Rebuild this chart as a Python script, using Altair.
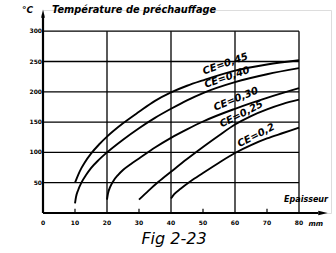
import altair as alt
import pandas as pd

# ---- data ----
ce_names = ["CE=0,45", "CE=0,40", "CE=0,30", "CE=0,25", "CE=0,2"]
a_x = [10, 11, 12, 13, 15, 17.5, 20, 25, 30, 35, 40, 45, 50, 60, 70, 80]
a_y = [50, 63, 74, 83, 98, 113, 126, 148, 167, 185, 199, 210, 219, 235, 245, 252]
b_x = [10, 10.3, 11, 12, 13.5, 15, 17.5, 20, 25, 30, 35, 40, 45, 50, 60, 70, 80]
b_y = [16, 26, 38, 50, 63, 74, 88, 100, 121, 140, 157, 172, 186, 198, 216, 229, 239]
c_x = [20, 20.3, 21, 22, 23.5, 25, 27.5, 30, 35, 40, 45, 50, 60, 70, 80]
c_y = [22, 32, 43, 53, 63, 71, 81, 90, 108, 124, 138, 151, 172, 190, 206]
d_x = [30, 33, 36, 40, 45, 50, 55, 60, 65, 70, 75, 80]
d_y = [22, 37, 51, 68, 89, 109, 128, 146, 160, 171, 180, 187]
e_x = [40, 41, 43, 46, 50, 55, 60, 65, 70, 75, 80]
e_y = [24, 31, 40, 52, 66, 83, 99, 112, 123, 132, 141]

label_x = [57.0, 57.5, 60.3, 62.0, 66.6]
label_y = [246, 224, 188, 163, 128]
label_angle = [341, 341, 338, 333, 333]

x_ticks = [0, 10, 20, 30, 40, 50, 60, 70, 80]
y_ticks = [50, 100, 150, 200, 250, 300]
x_grid = [20, 40, 60, 80]
x_minor = [10, 30, 50, 70]

series = [(a_x, a_y), (b_x, b_y), (c_x, c_y), (d_x, d_y), (e_x, e_y)]
rows = []
for name, (xs, ys) in zip(ce_names, series):
    for x, y in zip(xs, ys):
        rows.append({"ce": name, "x": x, "y": y})
curves_df = pd.DataFrame(rows)
labels_df = pd.DataFrame({"ce": ce_names, "x": label_x, "y": label_y, "ang": label_angle})

X = alt.Scale(domain=[0, 90], nice=False, zero=False)
Y = alt.Scale(domain=[0, 335], nice=False, zero=False)
W, H = 288, 203

def xq(f):
    return alt.X(f, type="quantitative", scale=X, axis=None)

def yq(f):
    return alt.Y(f, type="quantitative", scale=Y, axis=None)

hgrid = alt.Chart(pd.DataFrame({"y": y_ticks, "x0": 0, "x1": 80})).mark_rule(
    color="black", strokeWidth=1.3
).encode(x=xq("x0"), x2="x1", y=yq("y"))

vgrid = alt.Chart(pd.DataFrame({"x": x_grid, "y0": 0, "y1": 300})).mark_rule(
    color="black", strokeWidth=1.3
).encode(x=xq("x"), y=yq("y0"), y2="y1")

minor = alt.Chart(pd.DataFrame({"x": x_minor, "y0": 0, "y1": 7})).mark_rule(
    color="black", strokeWidth=1.2
).encode(x=xq("x"), y=yq("y0"), y2="y1")

xaxis = alt.Chart(pd.DataFrame({"x0": [0], "x1": [86], "y": [0]})).mark_rule(
    color="black", strokeWidth=2.2
).encode(x=xq("x0"), x2="x1", y=yq("y"))

yaxis = alt.Chart(pd.DataFrame({"x": [0], "y0": [0], "y1": [328]})).mark_rule(
    color="black", strokeWidth=2.2
).encode(x=xq("x"), y=yq("y0"), y2="y1")

arrow_x = alt.Chart(pd.DataFrame({"x": [87.5], "y": [0]})).mark_point(
    shape="M1,0L-1,-0.45L-1,0.45Z", filled=True, color="black", opacity=1, size=90
).encode(x=xq("x"), y=yq("y"))

arrow_y = alt.Chart(pd.DataFrame({"x": [0], "y": [329]})).mark_point(
    shape="M0,-1L-0.45,1L0.45,1Z", filled=True, color="black", opacity=1, size=70
).encode(x=xq("x"), y=yq("y"))

curves = alt.Chart(curves_df).mark_line(
    color="black", strokeWidth=1.9, interpolate="monotone"
).encode(x=xq("x"), y=yq("y"), detail="ce:N")

labels = alt.Chart(labels_df).mark_text(
    font="DejaVu Sans", fontSize=10, fontWeight="bold", fontStyle="italic",
    color="black",
).encode(
    x=xq("x"), y=yq("y"), text="ce:N",
    angle=alt.Angle("ang:Q", scale=None),
)

xlab = alt.Chart(pd.DataFrame({"x": x_ticks, "y": 0})).mark_text(
    font="DejaVu Sans", fontSize=6, fontWeight="bold", dy=10, color="black"
).encode(x=xq("x"), y=yq("y"), text=alt.Text("x:Q"))

ylab = alt.Chart(pd.DataFrame({"y": y_ticks, "x": 0})).mark_text(
    font="DejaVu Sans", fontSize=6, fontWeight="bold", align="right", dx=-1, color="black"
).encode(x=xq("x"), y=yq("y"), text=alt.Text("y:Q"))

def note(txt, px, py, size, weight="bold", align="left"):
    return alt.Chart(pd.DataFrame({"t": [txt]})).mark_text(
        font="DejaVu Sans", fontSize=size, fontWeight=weight, fontStyle="italic",
        align=align, baseline="middle", color="black",
    ).encode(x=alt.value(px), y=alt.value(py), text="t:N")

notes = [
    note("°C", -21, 0, 9),
    note("Température de préchauffage", 9, 0, 9.8),
    note("Epaisseur", 285, 190, 8, align="right"),
    note("mm", 280, 214, 7, align="right"),
    note("Fig 2-23", 131, 229, 16, weight="normal", align="center"),
]

chart = alt.layer(
    hgrid, vgrid, minor, curves, xaxis, yaxis, arrow_x, arrow_y, labels, xlab, ylab, *notes
).properties(
    width=W, height=H,
    autosize=alt.AutoSizeParams(type="none"),
    padding={"left": 43, "top": 10, "right": 5, "bottom": 40},
).configure_view(stroke=None).configure(background="white")

chart.save("out.html", embed_options={"renderer": "svg", "actions": False})
